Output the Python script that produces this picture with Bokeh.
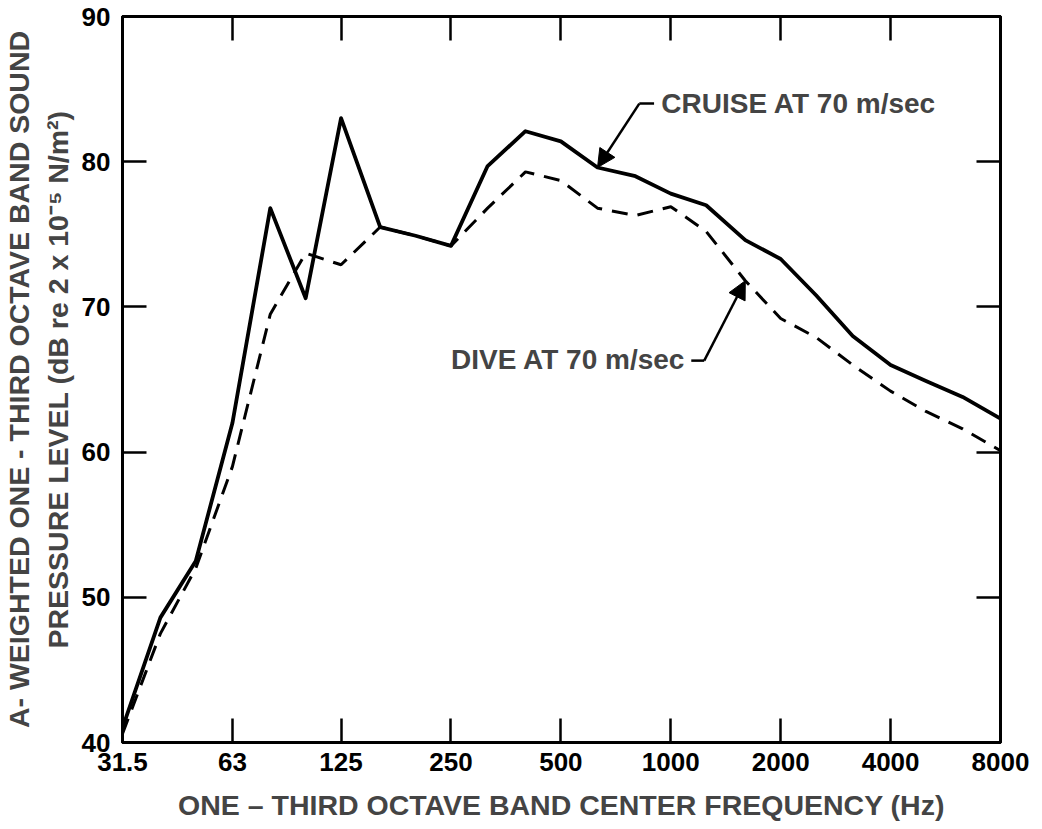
from bokeh.plotting import figure
from bokeh.models import (Range1d, FixedTicker, LogAxis, LinearAxis, Title, Label,
                          Arrow, NormalHead, CustomJSTickFormatter)
from bokeh.embed import file_html
from bokeh.resources import INLINE

# One-third octave band centre frequencies (Hz)
bands = [31.5, 40, 50, 63, 80, 100, 125, 160, 200, 250, 315, 400, 500, 630, 800,
         1000, 1250, 1600, 2000, 2500, 3150, 4000, 5000, 6300, 8000]
# A-weighted SPL (dB)
cruise = [41.0, 48.6, 52.5, 62.0, 76.8, 70.6, 83.0, 75.5, 74.9, 74.2, 79.7, 82.1, 81.4,
          79.6, 79.0, 77.8, 77.0, 74.6, 73.3, 70.8, 68.0, 66.0, 64.9, 63.8, 62.3]
dive = [40.6, 47.5, 52.0, 59.0, 69.5, 73.7, 72.9, 75.5, 74.9, 74.2, 76.8, 79.3, 78.7,
        76.8, 76.3, 76.9, 75.2, 71.8, 69.2, 67.9, 66.0, 64.2, 62.8, 61.6, 60.1]

x_ticks = [31.5, 63, 125, 250, 500, 1000, 2000, 4000, 8000]
x_tick_labels = ["31.5", "63", "125", "250", "500", "1000", "2000", "4000", "8000"]
y_ticks = [40, 50, 60, 70, 80, 90]

FONT = "Liberation Sans"

p = figure(width=1042, height=829, x_axis_type="log",
           x_range=Range1d(31.5, 8000), y_range=Range1d(40, 90),
           output_backend="svg", toolbar_location=None,
           min_border_left=120, min_border_right=42, min_border_top=16,
           min_border_bottom=87)
p.grid.visible = False
p.outline_line_color = "black"
p.outline_line_width = 3
p.background_fill_color = "white"
p.border_fill_color = "white"

def style_axis(ax, show_labels=True):
    ax.major_tick_in = 24
    ax.major_tick_out = 0
    ax.major_tick_line_width = 2.5
    ax.major_tick_line_color = "black"
    ax.minor_tick_line_color = None
    ax.axis_line_width = 3
    ax.axis_line_color = "black"
    ax.major_label_text_font = FONT
    ax.major_label_text_font_style = "bold"
    ax.major_label_text_font_size = "26px"
    ax.major_label_text_color = "black"
    if not show_labels:
        ax.formatter = CustomJSTickFormatter(code="return ''")
        ax.major_label_standoff = 0

xax = p.xaxis[0]
xax.ticker = FixedTicker(ticks=x_ticks)
xax.major_label_overrides = {t: l for t, l in zip(x_ticks, x_tick_labels)}
style_axis(xax)
xax.major_label_standoff = 10
xax.axis_label = "ONE – THIRD OCTAVE BAND CENTER FREQUENCY (Hz)"
xax.axis_label_text_font = FONT
xax.axis_label_text_font_style = "bold"
xax.axis_label_text_font_size = "28.5px"
xax.axis_label_standoff = 15

yax = p.yaxis[0]
yax.ticker = FixedTicker(ticks=y_ticks)
style_axis(yax)
yax.major_label_standoff = 12

top = LogAxis(ticker=FixedTicker(ticks=x_ticks))
style_axis(top, show_labels=False)
p.add_layout(top, "above")
right = LinearAxis(ticker=FixedTicker(ticks=y_ticks))
style_axis(right, show_labels=False)
p.add_layout(right, "right")

t2 = Title(text="PRESSURE LEVEL (dB re 2 x 10⁻⁵ N/m²)", align="center",
           text_font=FONT, text_font_style="bold", text_font_size="28.5px",
           standoff=10, offset=0)
t1 = Title(text="A- WEIGHTED ONE - THIRD OCTAVE BAND SOUND", align="center",
           text_font=FONT, text_font_style="bold", text_font_size="28.5px",
           standoff=0, offset=0)
p.add_layout(t2, "left")
p.add_layout(t1, "left")

p.line(bands, cruise, line_color="black", line_width=3.8, line_join="round")
p.line(bands, dive, line_color="black", line_width=3, line_dash="16 10")

# Annotations
cruise_idx = bands.index(630)
dive_idx = bands.index(1600)
cruise_text_pos = (942, 84.0)
cruise_elbow = [(900, 84.0), (820, 84.0)]
dive_text_pos = (250, 66.4)
dive_elbow = [(1138, 66.3), (1235, 66.3)]

p.add_layout(Label(x=cruise_text_pos[0], y=cruise_text_pos[1], text="CRUISE AT 70 m/sec",
                   text_font=FONT, text_font_style="bold", text_font_size="28px",
                   text_baseline="middle", text_align="left"))
p.line([e[0] for e in cruise_elbow], [e[1] for e in cruise_elbow],
       line_color="black", line_width=2.5)
p.add_layout(Arrow(end=NormalHead(size=18, fill_color="black", line_color="black"),
                   x_start=cruise_elbow[1][0], y_start=cruise_elbow[1][1],
                   x_end=bands[cruise_idx], y_end=cruise[cruise_idx],
                   line_color="black", line_width=2.5))

p.add_layout(Label(x=dive_text_pos[0], y=dive_text_pos[1], text="DIVE AT 70 m/sec",
                   text_font=FONT, text_font_style="bold", text_font_size="28px",
                   text_baseline="middle", text_align="left"))
p.line([e[0] for e in dive_elbow], [e[1] for e in dive_elbow],
       line_color="black", line_width=2.5)
p.add_layout(Arrow(end=NormalHead(size=18, fill_color="black", line_color="black"),
                   x_start=dive_elbow[1][0], y_start=dive_elbow[1][1],
                   x_end=bands[dive_idx], y_end=dive[dive_idx],
                   line_color="black", line_width=2.5))

open("out.html", "w").write(file_html(p, INLINE))
